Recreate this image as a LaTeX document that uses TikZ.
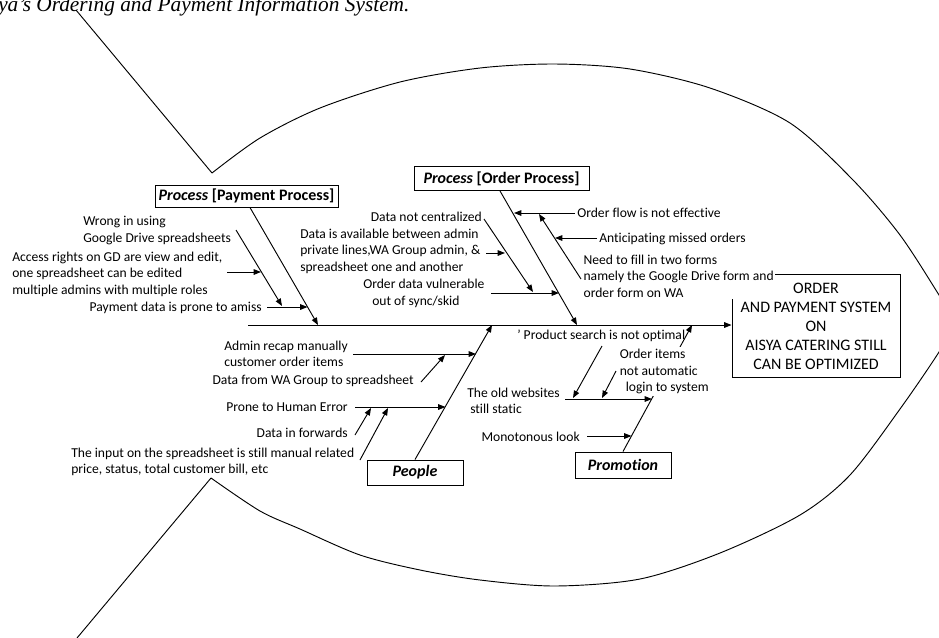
\documentclass[tikz,border=0pt]{standalone}
\usepackage{fontspec}
\setmainfont{Carlito}[Ligatures=NoCommon]
\newfontfamily\titlefont{Liberation Serif}
\usetikzlibrary{arrows.meta}
\begin{document}
\begin{tikzpicture}[x=0.75pt,y=-0.75pt,
  lbl/.style={font=\fontsize{10.2}{12.4}\selectfont, inner sep=0pt},
  catbox/.style={draw, line width=0.7pt, font=\fontsize{12}{14.4}\selectfont\bfseries, inner sep=0pt, minimum height=16.5pt},
  arr/.style={line width=0.7pt, -{Triangle[length=5.5pt,width=4.2pt]}},
  fish/.style={line width=0.7pt}
]
\useasboundingbox (0,0) rectangle (939,637);
\clip (0,0) rectangle (939,637);

% caption fragment
\node[anchor=base west, inner sep=0pt, font=\titlefont\itshape\fontsize{16}{19}\selectfont] (title) at (-2,11) {ya’s Ordering and Payment Information System.};

% fish outline
\coordinate (tailA) at (76,10);
\coordinate (vUp) at (212,173);
\coordinate (vLo) at (211,478);
\coordinate (tailB) at (77,638);
\draw[fish] (tailA) -- (vUp);
\draw[fish] (vLo) -- (tailB);
\draw[fish] plot[smooth] coordinates {(212,173) (260,138) (320,108) (400,82) (480,68) (555,64) (630,69) (710,88) (790,123) (853,180) (900,235) (939,295) (955,322) (939,352) (900,409) (850,475) (800,515) (720,553) (640,579) (555,586) (480,580) (420,570) (360,555) (300,529) (260,511) (211,478)};

% head box
\node[draw, line width=0.7pt, minimum width=126pt, minimum height=77.25pt, align=center, inner sep=0pt,
      font=\fontsize{12}{14.3}\selectfont] (mainbox) at (816,326) {ORDER\\AND PAYMENT SYSTEM\\ON\\AISYA CATERING STILL\\CAN BE OPTIMIZED};

% spine
\coordinate (spL) at (248,325);
\draw[arr] (spL) -- (mainbox.west |- spL);

% category boxes
\node[catbox, minimum width=137.25pt] (paybox) at (246.5,196) {\textit{Process} [Payment Process]};
\node[catbox, minimum width=131.25pt, minimum height=18pt] (ordbox) at (501.5,178.5) {\textit{Process} [Order Process]};
\node[catbox, minimum width=72pt, minimum height=18.75pt] (peoplebox) at (415,472.5) {\textit{People}};
\node[catbox, minimum width=72pt, minimum height=19.5pt] (promobox) at (623,465) {\textit{Promotion}};

% main bones
\coordinate (payTip) at (318,325);
\coordinate (ordTip) at (577,325);
\coordinate (pplTip) at (492,325);
\coordinate (proTip) at (692,325);
\draw[arr] ([xshift=2.6pt]paybox.south) -- (payTip);
\draw[arr] ([xshift=-1.1pt]ordbox.south) -- (ordTip);
\draw[arr] (peoplebox.north) -- (pplTip);
\draw[arr] (promobox.north) -- (proTip);

% ---------- Payment process causes
\node[lbl, anchor=north west, align=left] (wrong) at (83,216.3) {Wrong in using\\Google Drive spreadsheets};
\node[lbl, anchor=north west, align=left] (access) at (12,251.3) {Access rights on GD are view and edit,\\one spreadsheet can be edited\\multiple admins with multiple roles};
\node[lbl, anchor=base east] (paydata) at (262,311) {Payment data is prone to amiss};
\coordinate (wrongS) at (236,230);  \coordinate (wrongT) at (282,306);
\coordinate (accS) at (227,272);    \coordinate (accT) at (261,272);
\coordinate (payS) at (267,307);    \coordinate (payT) at (307.5,307);
\draw[arr] (wrongS) -- (wrongT);
\draw[arr] (accS) -- (accT);
\draw[arr] (payS) -- (payT);

% ---------- Order process causes
\node[lbl, anchor=base east] (notcent) at (482,221) {Data not centralized};
\node[lbl, anchor=north west, align=left] (avail) at (300,228.3) {Data is available between admin\\private lines,WA Group admin, \&\\spreadsheet one and another};
\node[lbl, anchor=north west, align=left] (vuln) at (363,278.8) {Order data vulnerable\\\hspace*{6.75pt}out of sync/skid};
\node[lbl, anchor=base west] (flow) at (577,217) {Order flow is not effective};
\node[lbl, anchor=base west] (antic) at (599,242) {Anticipating missed orders};
\node[lbl, anchor=north west, align=left, fill=white, inner sep=1pt] (need) at (582,253.3) {Need to fill in two forms\\namely the Google Drive form and\\order form on WA};
\coordinate (ncS) at (484,219);   \coordinate (ncT) at (533,292);
\coordinate (avS) at (486,253);   \coordinate (avT) at (505,253);
\coordinate (vuS) at (491,293);   \coordinate (vuT) at (559,293);
\coordinate (flS) at (575,213);   \coordinate (flT) at (514,213);
\coordinate (anS) at (597,238);   \coordinate (anT) at (555,238);
\coordinate (neS) at (581,279);   \coordinate (neT) at (539,214);
\draw[arr] (ncS) -- (ncT);
\draw[arr] (avS) -- (avT);
\draw[arr] (vuS) -- (vuT);
\draw[arr] (flS) -- (flT);
\draw[arr] (anS) -- (anT);
\draw[arr] (neS) -- (neT);

% ---------- People causes
\node[lbl, anchor=north west, align=left] (admin) at (224,340.3) {Admin recap manually\\customer order items};
\node[lbl, anchor=base east] (wa) at (414,384) {Data from WA Group to spreadsheet};
\node[lbl, anchor=base east] (prone) at (348,411) {Prone to Human Error};
\node[lbl, anchor=base east] (fwd) at (348,437) {Data in forwards};
\node[lbl, anchor=north west, align=left] (input) at (71,447.3) {The input on the spreadsheet is still manual related\\price, status, total customer bill, etc};
\coordinate (adS) at (353,354);  \coordinate (adT) at (476,354);
\coordinate (waS) at (421,382);  \coordinate (waT) at (445,355);
\coordinate (prS) at (355,407);  \coordinate (prT) at (445.5,407);
\coordinate (fwS) at (355,435);  \coordinate (fwT) at (371,408);
\coordinate (inS) at (360,460);  \coordinate (inT) at (388,408);
\draw[arr] (adS) -- (adT);
\draw[arr] (waS) -- (waT);
\draw[arr] (prS) -- (prT);
\draw[arr] (fwS) -- (fwT);
\draw[arr] (inS) -- (inT);

% ---------- Promotion causes
\node[lbl, anchor=base west] (prod) at (517,339) {’ Product search is not optimal};
\node[lbl, anchor=north west, align=left, fill=white, inner sep=1.5pt] (items) at (617.5,346.8) {Order items\\not automatic\\\hspace*{4.5pt}login to system};
\node[lbl, anchor=north west, align=left] (old) at (467,387.3) {The old websites\\\hspace*{2.25pt}still static};
\node[lbl, anchor=base east] (mono) at (580,441) {Monotonous look};
\coordinate (pdS) at (602,346);  \coordinate (pdT) at (573,398);
\coordinate (itS) at (616,371);  \coordinate (itT) at (602,398);
\coordinate (olS) at (565,399);  \coordinate (olT) at (652,399);
\coordinate (moS) at (587,436);  \coordinate (moT) at (631.5,436);
\draw[arr] (pdS) -- (pdT);
\draw[arr] (itS) -- (itT);
\draw[arr] (olS) -- (olT);
\draw[arr] (moS) -- (moT);
\end{tikzpicture}
\end{document}
